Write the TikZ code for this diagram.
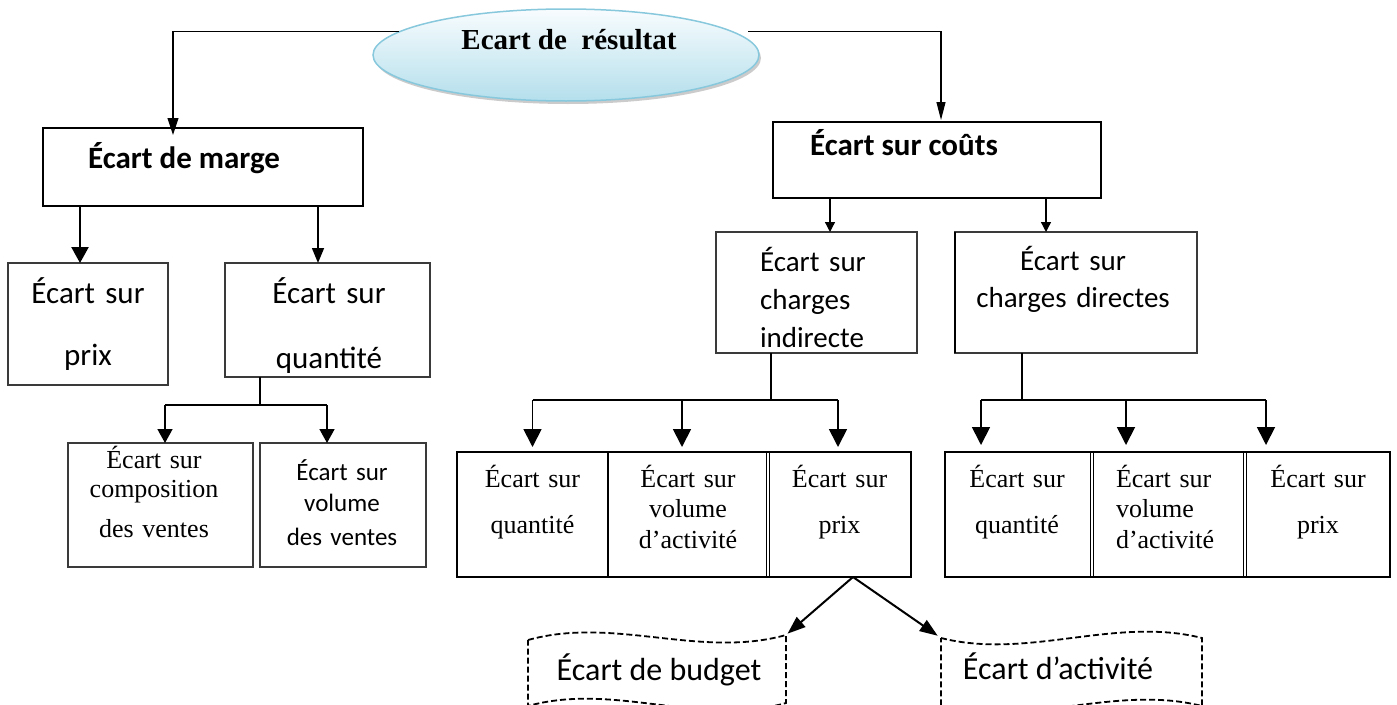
\documentclass[tikz,border=0pt]{standalone}
\usepackage{fontspec}
\setmainfont{Liberation Serif}
\newfontfamily\calfont{Carlito}
\usetikzlibrary{arrows.meta,shapes.geometric,shadows}
\definecolor{ovaltop}{HTML}{F8FCFE}
\definecolor{ovalbot}{HTML}{B4DFEC}
\definecolor{ovalrim}{HTML}{88C8DD}
\definecolor{boxgrey}{HTML}{3A3A3A}
\begin{document}
\begin{tikzpicture}[x=1pt,y=-1pt,
  frame/.style={draw=black, line width=2pt, inner sep=0pt, outer sep=0pt},
  lightframe/.style={draw=boxgrey, line width=1.1pt, inner sep=0pt, outer sep=0pt},
  cell/.style={inner sep=0pt, outer sep=0pt, minimum height=125pt},
  txt/.style={anchor=base, inner sep=0pt, outer sep=0pt, align=center},
  ltxt/.style={anchor=base west, inner sep=0pt, outer sep=0pt, align=left},
  link/.style={draw=black, line width=1.8pt},
  bigtip/.style={-{Triangle[length=18pt,width=18pt]}},
  midtip/.style={-{Triangle[length=14pt,width=15pt]}},
  smalltip/.style={-{Triangle[length=10pt,width=10pt]}},
  wave/.style={draw=black, line width=1.8pt, dash pattern=on 6pt off 3pt},
]
\fill[white] (0,0) rectangle (1397,704);
\useasboundingbox (0,0) rectangle (1397,704);
\clip (0,0) rectangle (1397,704);

% ---- root oval ----
\node[ellipse, minimum width=386pt, minimum height=92pt, inner sep=0pt,
      draw=ovalrim, line width=1.5pt, top color=ovaltop, bottom color=ovalbot,
      drop shadow={shadow xshift=2pt, shadow yshift=-3pt, fill=black!40}] (res) at (566,55) {};
\node[txt, font=\bfseries\fontsize{29pt}{34pt}\selectfont] (restxt) at (569,49) {Ecart de\ \ résultat};

% ---- first level ----
\node[frame, minimum width=320pt, minimum height=78pt] (marge) at (203,167) {};
\node[ltxt, font=\calfont\bfseries\fontsize{31pt}{36pt}\selectfont] (margetxt) at (88,168) {Écart de marge};
\node[frame, minimum width=328pt, minimum height=76pt] (couts) at (937,160) {};
\node[ltxt, font=\calfont\bfseries\fontsize{31pt}{36pt}\selectfont] (coutstxt) at (810,155) {Écart sur coûts};

\draw[line width=1.1pt, -{Triangle[length=17pt,width=11pt]}]
  (res.172) -| ([xshift=-30pt,yshift=-7pt]marge.north);
\draw[line width=1.1pt, -{Triangle[length=18pt,width=9pt]}]
  ([xshift=15pt]res.8) -| ([xshift=4pt,yshift=2pt]couts.north);

% ---- margin branch ----
\node[lightframe, minimum width=160pt, minimum height=122pt] (prixb) at (88,324) {};
\draw[line width=2pt, draw=boxgrey] (prixb.north west) -- (prixb.south west) -- (prixb.south east);
\node[txt, text width=150pt, font=\calfont\fontsize{31pt}{62pt}\selectfont] (prixtxt) at (88,303) {Écart sur\\prix};
\node[lightframe, minimum width=205pt, minimum height=114pt] (qtb) at (327.5,320) {};
\node[txt, text width=190pt, font=\calfont\fontsize{31pt}{65pt}\selectfont] (qttxt) at (329,303) {Écart sur\\quantité};

\draw[line width=2.4pt, -{Triangle[length=16pt,width=17pt]}]
  ([xshift=-8pt]prixb.north |- marge.south) -- ([xshift=-8pt]prixb.north);
\draw[line width=1.5pt, -{Triangle[length=15pt,width=12pt]}]
  ([xshift=-9.5pt]qtb.north |- marge.south) -- ([xshift=-9.5pt]qtb.north);

\node[lightframe, minimum width=185pt, minimum height=124pt] (comp) at (160.5,505) {};
\draw[line width=2pt, draw=boxgrey] (comp.north west) -- (comp.south west) -- (comp.south east);
\node[txt, text width=175pt, font=\fontsize{26pt}{29pt}\selectfont] (comptxt) at (154,468) {Écart sur\\composition\\[11pt]des ventes};
\node[lightframe, minimum width=166pt, minimum height=124pt] (volv) at (343,505) {};
\node[txt, text width=156pt, font=\calfont\fontsize{25pt}{31pt}\selectfont] (volvtxt) at (342,480) {Écart sur\\volume\\[3pt]des ventes};

\coordinate (qj) at (260,405);
\draw[line width=1.6pt] (qtb.south -| qj) -- (qj);
\draw[line width=1.6pt] ([xshift=4.5pt]comp.north |- qj) -- ([xshift=-16pt]volv.north |- qj);
\draw[line width=1.6pt, midtip] ([xshift=4.5pt]comp.north |- qj) -- ([xshift=4.5pt]comp.north);
\draw[line width=1.6pt, midtip] ([xshift=-16pt]volv.north |- qj) -- ([xshift=-16pt]volv.north);

% ---- cost branch ----
\node[lightframe, minimum width=201pt, minimum height=121pt] (ci) at (816.5,292.5) {};
\node[ltxt, text width=150pt, font=\calfont\fontsize{29pt}{38pt}\selectfont] (citxt) at (760,271) {Écart sur\\charges\\indirecte};
\node[lightframe, minimum width=242pt, minimum height=121pt] (cd) at (1076,292.5) {};
\draw[line width=2.6pt] (cd.north west) -- (cd.south west);
\node[txt, text width=232pt, font=\calfont\fontsize{29pt}{37pt}\selectfont] (cdtxt) at (1073,270) {Écart sur\\charges directes};

\draw[line width=1.3pt, smalltip]
  ([xshift=13.5pt]ci.north |- couts.south) -- ([xshift=13.5pt]ci.north);
\draw[line width=1.3pt, smalltip]
  ([xshift=-30pt]cd.north |- couts.south) -- ([xshift=-30pt]cd.north);

% indirect-charge table
\node[cell, minimum width=151pt] (iq) at (532.5,514.5) {};
\node[cell, minimum width=160pt] (iv) at (688,514.5) {};
\node[cell, minimum width=143pt] (ip) at (839.5,514.5) {};
\draw[line width=2.6pt] (iq.north west) rectangle (ip.south east);
\draw[line width=2pt] (iq.north east) -- (iq.south east);
\draw[line width=1pt] ([xshift=-1.6pt]iv.north east) -- ([xshift=-1.6pt]iv.south east);
\draw[line width=1pt] ([xshift=1.6pt]iv.north east) -- ([xshift=1.6pt]iv.south east);
\node[txt, text width=140pt, font=\fontsize{26pt}{46pt}\selectfont] (iqtxt) at (532.5,487) {Écart sur\\quantité};
\node[txt, text width=150pt, font=\fontsize{26pt}{30.5pt}\selectfont] (ivtxt) at (688,487) {Écart sur\\volume\\d’activité};
\node[txt, text width=135pt, font=\fontsize{26pt}{46pt}\selectfont] (iptxt) at (839.5,487) {Écart sur\\prix};

\coordinate (ij) at (771,400);
\draw[link] (ci.south -| ij) -- (ij);
\draw[link] (iq.north |- ij) -- ([xshift=-1.5pt]ip.north |- ij);
\draw[link, bigtip, shorten >=5pt] (iq.north |- ij) -- (iq.north);
\draw[link, bigtip, shorten >=5pt] ([xshift=-6pt]iv.north |- ij) -- ([xshift=-6pt]iv.north);
\draw[link, bigtip, shorten >=5pt] ([xshift=-1.5pt]ip.north |- ij) -- ([xshift=-1.5pt]ip.north);

% direct-charge table
\node[cell, minimum width=147pt] (dq) at (1018.5,514.5) {};
\node[cell, minimum width=153pt] (dv) at (1168.5,514.5) {};
\node[cell, minimum width=145pt] (dp) at (1317.5,514.5) {};
\draw[line width=2.6pt] (dq.north west) rectangle (dp.south east);
\foreach \c in {dq,dv}{
  \draw[line width=1pt] ([xshift=-1.6pt]\c.north east) -- ([xshift=-1.6pt]\c.south east);
  \draw[line width=1pt] ([xshift=1.6pt]\c.north east) -- ([xshift=1.6pt]\c.south east);
}
\node[txt, text width=140pt, font=\fontsize{26pt}{46pt}\selectfont] (dqtxt) at (1017,487) {Écart sur\\quantité};
\node[ltxt, text width=140pt, font=\fontsize{26pt}{30.5pt}\selectfont] (dvtxt) at (1116,487) {Écart sur\\volume\\d’activité};
\node[txt, text width=135pt, font=\fontsize{26pt}{46pt}\selectfont] (dptxt) at (1318,487) {Écart sur\\prix};

\coordinate (dj) at (1022,400);
\draw[link] (cd.south -| dj) -- (dj);
\draw[link] ([xshift=-37.5pt]dq.north |- dj) -- ([xshift=-51.5pt]dp.north |- dj);
\draw[link, bigtip, shorten >=7pt] ([xshift=-37.5pt]dq.north |- dj) -- ([xshift=-37.5pt]dq.north);
\draw[link, bigtip, shorten >=7pt] ([xshift=-42.5pt]dv.north |- dj) -- ([xshift=-42.5pt]dv.north);
\draw[link, bigtip, shorten >=7pt] ([xshift=-51.5pt]dp.north |- dj) -- ([xshift=-51.5pt]dp.north);

% ---- price variance split into wave-shaped notes ----
\coordinate (b1) at (528,640);
\coordinate (b2) at (786,635);
\coordinate (b3) at (786,703);
\coordinate (b4) at (528,706);
\draw[wave] (b1) .. controls +(86,-24) and +(-86,24) .. (b2) -- (b3)
  .. controls +(-86,24) and +(86,-24) .. (b4) -- cycle;
\node[txt, font=\calfont\fontsize{32pt}{36pt}\selectfont] (bud) at (659,680) {Écart de budget};

\coordinate (a1) at (941,638);
\coordinate (a2) at (1202,638);
\coordinate (a3) at (1202,706);
\coordinate (a4) at (941,706);
\draw[wave] (a1) .. controls +(87,22) and +(-87,-22) .. (a2) -- (a3)
  .. controls +(-87,-22) and +(87,22) .. (a4) -- cycle;
\node[txt, font=\calfont\fontsize{32pt}{36pt}\selectfont] (act) at (1058,679) {Écart d’activité};

\coordinate (apex) at ([xshift=13.5pt]ip.south);
\draw[line width=2pt, -{Triangle[length=18pt,width=13pt]}, shorten >=2pt] (apex) -- (b2);
\draw[line width=2pt, -{Triangle[length=18pt,width=13pt]}, shorten >=4pt] (apex) -- (a1);
\end{tikzpicture}
\end{document}
